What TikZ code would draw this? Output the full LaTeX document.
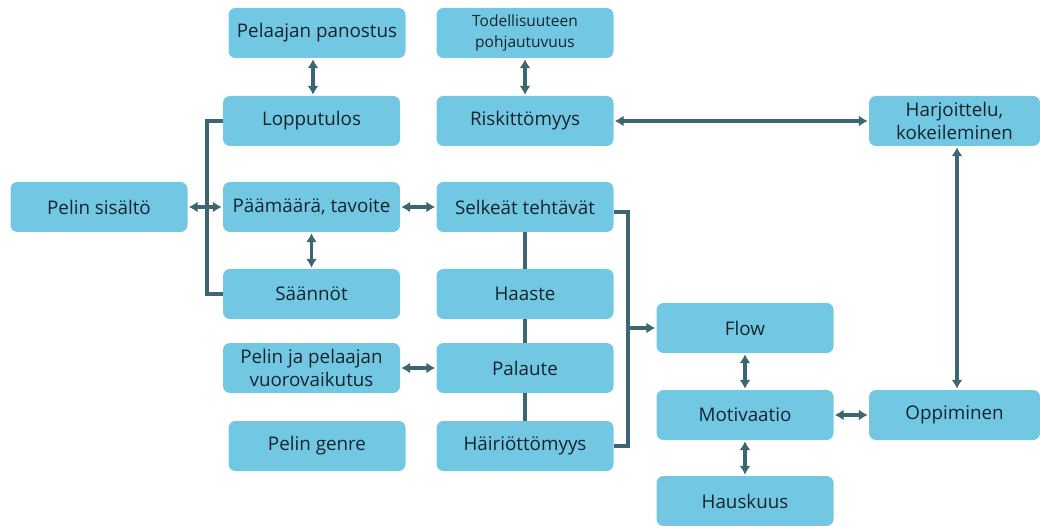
\documentclass[tikz,border=0pt]{standalone}
\usepackage{fontspec}
\setmainfont{Open Sans}
\usetikzlibrary{arrows.meta}
\definecolor{boxc}{HTML}{72C8E2}
\definecolor{linec}{HTML}{3B6672}
\definecolor{txtc}{HTML}{16242C}
\tikzset{
  box/.style={fill=boxc, rounded corners=7pt, minimum width=177pt, minimum height=50pt,
    inner sep=0pt, align=center, text=txtc, font=\fontsize{18.8}{23}\selectfont},
  smallbox/.style={box, font=\fontsize{15.5}{20.5}\selectfont},
  con/.style={draw=linec, line width=3.2pt},
  bi/.style={con, {Latex[length=9pt,width=11pt]}-{Latex[length=9pt,width=11pt]}, shorten <=1pt, shorten >=1pt},
  arr/.style={con, -{Latex[length=9pt,width=11pt]}, shorten >=1pt}
}
\begin{document}
\begin{tikzpicture}[x=1pt,y=-1pt]
\useasboundingbox (0,0) rectangle (1040,526);
\node[box] (sis) at (99,207) {Pelin sisältö};
\node[box] (pan) at (317,33) {Pelaajan panostus};
\node[box] (lop) at (311.5,121) {Lopputulos};
\node[box] (paa) at (311.5,207) {Päämäärä, tavoite};
\node[box] (saa) at (311.5,294) {Säännöt};
\node[box] (vuo) at (311.5,368) {Pelin ja pelaajan\\vuorovaikutus};
\node[box] (gen) at (317,446) {Pelin genre};
\node[smallbox] (tod) at (525,33) {Todellisuuteen\\pohjautuvuus};
\node[box] (ris) at (525,121) {Riskittömyys};
\node[box] (sel) at (525,207) {Selkeät tehtävät};
\node[box] (haa) at (525,294) {Haaste};
\node[box] (pal) at (525,368) {Palaute};
\node[box] (hai) at (525,446) {Häiriöttömyys};
\node[box] (flo) at (745,328) {Flow};
\node[box] (mot) at (745,415) {Motivaatio};
\node[box] (hau) at (745,501) {Hauskuus};
\node[box, minimum width=171pt] (har) at (954.5,121) {Harjoittelu,\\kokeileminen};
\node[box, minimum width=171pt] (opp) at (954.5,415) {Oppiminen};
\coordinate (lb) at (207,207);
\coordinate (rb) at (628,328);
% left bracket
\draw[con] (lop.west) -| (lb) |- (saa.west);
\draw[bi] (sis.east) -- (paa.west);
% vertical arrows
\draw[bi] (pan.south -| 313,0) -- (lop.north -| 313,0);
\draw[bi] (paa.south) -- (saa.north);
\draw[bi] (tod.south) -- (ris.north);
\draw[bi] (paa.east) -- (sel.west);
\draw[bi] (vuo.east) -- (pal.west);
\draw[bi] (ris.east) -- (har.west);
\draw[bi] (har.south -| 957,0) -- (opp.north -| 957,0);
\draw[bi] (flo.south) -- (mot.north);
\draw[bi] (mot.south) -- (hau.north);
\draw[bi] (mot.east) -- (opp.west);
% column line
\draw[con] (sel.south) -- (haa.north);
\draw[con] (haa.south) -- (pal.north);
\draw[con] (pal.south) -- (hai.north);
% right bracket
\draw[con] ([yshift=-5pt]sel.east) -| (rb) |- (hai.east);
\draw[arr] (rb) -- (flo.west);
\end{tikzpicture}
\end{document}
